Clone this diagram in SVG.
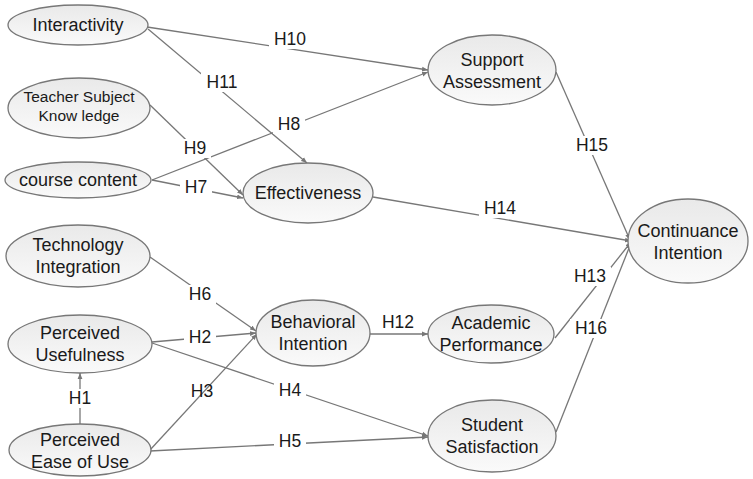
<svg xmlns="http://www.w3.org/2000/svg" width="753" height="479" viewBox="0 0 753 479">
<defs>
<linearGradient id="g" x1="0" y1="0" x2="0" y2="1">
<stop offset="0" stop-color="#e9e9e9"/><stop offset="1" stop-color="#fafafa"/>
</linearGradient>
<marker id="a" viewBox="0 0 10 10" refX="10" refY="5" markerWidth="6" markerHeight="6" orient="auto" markerUnits="userSpaceOnUse">
<path d="M0,1 L10,5 L0,9 z" fill="#777"/>
</marker>
</defs>
<style>
.n ellipse{fill:url(#g);stroke:#777;stroke-width:1.3}
.n text{font-family:"Liberation Sans",Arial,sans-serif;font-size:18px;fill:#1a1a1a;text-anchor:middle}
.c line{stroke:#777;stroke-width:1.3;marker-end:url(#a)}
.l rect{fill:#fff}
.l text{font-family:"Liberation Sans",Arial,sans-serif;font-size:17.5px;fill:#1a1a1a;text-anchor:middle}
</style>
<rect width="753" height="479" fill="#fff"/>
<g class="c" id="connectors">
<line x1="147" y1="27" x2="428" y2="70"/>
<line x1="148" y1="29" x2="307" y2="163"/>
<line x1="150" y1="105" x2="243" y2="195"/>
<line x1="152" y1="180" x2="428" y2="72"/>
<line x1="152" y1="180" x2="243" y2="198"/>
<line x1="373" y1="197" x2="631" y2="241"/>
<line x1="556" y1="72" x2="630" y2="240"/>
<line x1="555" y1="338" x2="631" y2="242"/>
<line x1="556" y1="432" x2="631" y2="243"/>
<line x1="150" y1="257" x2="256" y2="331"/>
<line x1="152" y1="342" x2="256" y2="333"/>
<line x1="150" y1="450" x2="257" y2="334"/>
<line x1="152" y1="343" x2="428" y2="436"/>
<line x1="150" y1="451" x2="428" y2="437"/>
<line x1="80" y1="424" x2="80" y2="373"/>
<line x1="370" y1="334" x2="428" y2="334"/>
</g>
<g class="l" id="labels">
<rect x="269" y="30" width="42" height="19"/><text x="290" y="45">H10</text>
<rect x="201" y="73" width="42" height="19"/><text x="222" y="88">H11</text>
<rect x="273" y="115" width="32" height="19"/><text x="289" y="130">H8</text>
<rect x="179" y="139" width="32" height="19"/><text x="195" y="154">H9</text>
<rect x="180" y="178" width="32" height="19"/><text x="196" y="193">H7</text>
<rect x="479" y="199" width="42" height="19"/><text x="500" y="214">H14</text>
<rect x="571" y="136" width="42" height="19"/><text x="592" y="151">H15</text>
<rect x="569" y="267" width="42" height="19"/><text x="590" y="282">H13</text>
<rect x="570" y="319" width="42" height="19"/><text x="591" y="334">H16</text>
<text x="398" y="328">H12</text>
<rect x="184" y="285" width="32" height="19"/><text x="200" y="300">H6</text>
<rect x="184" y="328" width="32" height="19"/><text x="200" y="343">H2</text>
<text x="202" y="397">H3</text>
<rect x="274" y="381" width="32" height="19"/><text x="290" y="396">H4</text>
<rect x="66" y="389" width="28" height="19"/><text x="80" y="404">H1</text>
<rect x="274" y="432" width="32" height="19"/><text x="290" y="447">H5</text>
</g>
<g class="n" id="interactivity"><ellipse cx="78" cy="25" rx="70" ry="20"/><text x="78" y="31">Interactivity</text></g>
<g class="n" id="teacher"><ellipse cx="79" cy="108" rx="71" ry="30"/><text x="79" y="102" style="font-size:15.5px">Teacher Subject</text><text x="79" y="121" style="font-size:15.5px">Know ledge</text></g>
<g class="n" id="course"><ellipse cx="78" cy="180" rx="73" ry="18"/><text x="78" y="186">course content</text></g>
<g class="n" id="effectiveness"><ellipse cx="308" cy="193" rx="65" ry="30"/><text x="308" y="199">Effectiveness</text></g>
<g class="n" id="support"><ellipse cx="492" cy="70" rx="64" ry="35"/><text x="492" y="66">Support</text><text x="492" y="88">Assessment</text></g>
<g class="n" id="continuance"><ellipse cx="688" cy="241" rx="60" ry="42"/><text x="688" y="237">Continuance</text><text x="688" y="259">Intention</text></g>
<g class="n" id="technology"><ellipse cx="78" cy="256" rx="72" ry="31"/><text x="78" y="251">Technology</text><text x="78" y="273">Integration</text></g>
<g class="n" id="pu"><ellipse cx="80" cy="344" rx="72" ry="29"/><text x="80" y="339">Perceived</text><text x="80" y="361">Usefulness</text></g>
<g class="n" id="peou"><ellipse cx="80" cy="450" rx="71" ry="26"/><text x="80" y="446">Perceived</text><text x="80" y="468">Ease of Use</text></g>
<g class="n" id="bi"><ellipse cx="313" cy="333" rx="57" ry="33"/><text x="313" y="328">Behavioral</text><text x="313" y="350">Intention</text></g>
<g class="n" id="academic"><ellipse cx="491" cy="334" rx="63" ry="29"/><text x="491" y="329">Academic</text><text x="491" y="351">Performance</text></g>
<g class="n" id="satisfaction"><ellipse cx="492" cy="436" rx="64" ry="36"/><text x="492" y="431">Student</text><text x="492" y="453">Satisfaction</text></g>
</svg>
